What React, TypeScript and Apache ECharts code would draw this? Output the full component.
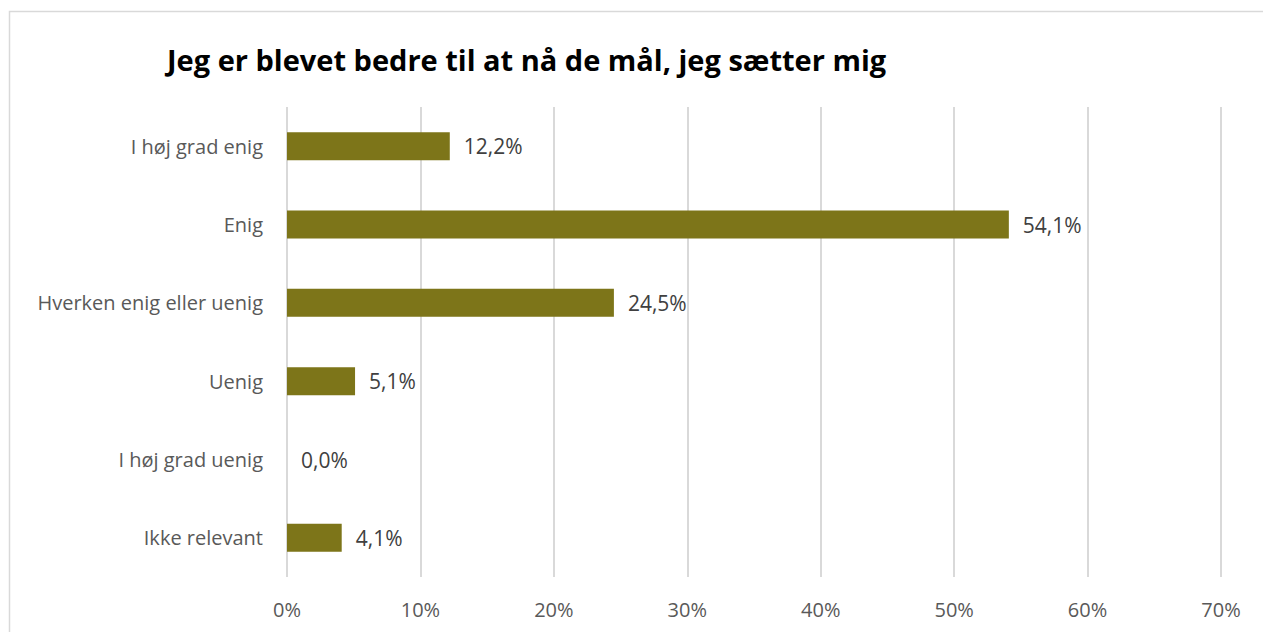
import React, { useEffect, useRef } from "react";
import * as echarts from "echarts";

const titleText = "Jeg er blevet bedre til at nå de mål, jeg sætter mig";
const categories = [
  "I høj grad enig",
  "Enig",
  "Hverken enig eller uenig",
  "Uenig",
  "I høj grad uenig",
  "Ikke relevant",
];
const values = [12.2, 54.1, 24.5, 5.1, 0.0, 4.1];
const axisMax = 70;
const axisInterval = 10;

export default function App() {
  const ref = useRef<HTMLDivElement>(null);
  useEffect(() => {
    document.body.style.margin = "0";
    if (!ref.current) return;
    const chart = echarts.init(ref.current, undefined, { renderer: "svg" });
    chart.setOption({
      animation: false,
      backgroundColor: "#ffffff",
      textStyle: { fontFamily: "Open Sans" },
      title: {
        text: titleText,
        left: 162,
        top: 40,
        textStyle: {
          fontFamily: "Open Sans",
          fontWeight: "bold",
          fontSize: 29,
          color: "#000000",
        },
      },
      graphic: [
        {
          type: "rect",
          shape: { x: 9.5, y: 11.5, width: 1300, height: 700 },
          style: { fill: "none", stroke: "#d9d9d9", lineWidth: 1.5 },
          silent: true,
        },
      ],
      grid: { left: 287, right: 42, top: 107, bottom: 55, containLabel: false },
      xAxis: {
        type: "value",
        min: 0,
        max: axisMax,
        interval: axisInterval,
        axisLine: { show: false },
        axisTick: { show: false },
        splitLine: { show: true, lineStyle: { color: "#d9d9d9", width: 2 } },
        axisLabel: {
          formatter: "{value}%",
          color: "#595959",
          fontSize: 20,
          margin: 22,
          fontFamily: "Open Sans",
        },
      },
      yAxis: {
        type: "category",
        data: categories,
        inverse: true,
        axisLine: { show: false },
        axisTick: { show: false },
        splitLine: { show: false },
        axisLabel: {
          color: "#595959",
          fontSize: 20,
          margin: 24,
          fontFamily: "Open Sans",
        },
      },
      series: [
        {
          type: "bar",
          data: values,
          barWidth: 28,
          itemStyle: { color: "#7D7519" },
          label: {
            show: true,
            position: "right",
            distance: 14,
            color: "#404040",
            fontSize: 21,
            fontFamily: "Open Sans",
            formatter: (p: any) => p.value.toFixed(1).replace(".", ",") + "%",
          },
        },
      ],
    });
    return () => chart.dispose();
  }, []);
  return (
    <div
      ref={ref}
      style={{ position: "absolute", left: 0, top: 0, width: 1263, height: 632 }}
    />
  );
}
